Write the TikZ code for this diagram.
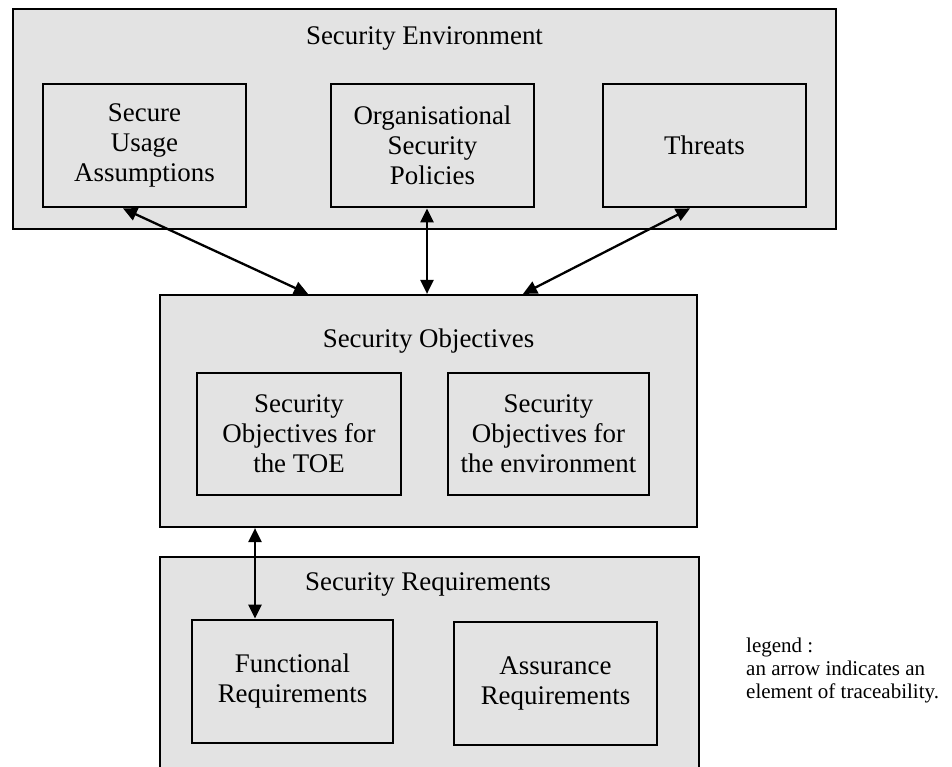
\documentclass[tikz,border=0pt]{standalone}
\usepackage{fontspec}
\setmainfont{Liberation Serif}
\usetikzlibrary{arrows.meta}
\definecolor{panelgray}{RGB}{227,227,227}
\tikzset{
  panel/.style={draw=black, line width=2.2pt, fill=panelgray, inner sep=0pt, rectangle},
  item/.style={draw=black, line width=2.8pt, fill=panelgray, inner sep=0pt, rectangle,
    minimum width=203pt, minimum height=123pt, align=center,
    font=\fontsize{26.9}{30}\selectfont},
  heading/.style={anchor=base, inner sep=0pt, font=\fontsize{26.9}{30}\selectfont},
  trace/.style={line width=2.3pt, {Triangle[length=14pt,width=13pt]}-{Triangle[length=14pt,width=13pt]}}
}
\begin{document}
\begin{tikzpicture}[x=1pt,y=-1pt]
\useasboundingbox (0,0) rectangle (952,767);

% Security environment
\node[panel, minimum width=823pt, minimum height=220pt] (env) at (424.5,119) {};
\node[heading] (envt) at (424.5,45) {Security Environment};
\node[item] (sua) at (144.5,145.5) {Secure\\Usage\\Assumptions};
\node[item] (osp) at (432.5,145.5) {Organisational\\Security\\Policies};
\node[item] (thr) at (704.5,145.5) {Threats};

% Security objectives
\node[panel, minimum width=537pt, minimum height=232pt] (obj) at (428.5,411) {};
\node[heading] (objt) at (428.5,347) {Security Objectives};
\node[item, minimum width=204pt, minimum height=122pt] (otoe) at (299,434) {Security\\Objectives for\\the TOE};
\node[item, minimum width=201pt, minimum height=122pt] (oenv) at (548.5,434) {Security\\Objectives for\\the environment};

% Security requirements (runs off the lower edge)
\node[fill=panelgray, inner sep=0pt, minimum width=539pt, minimum height=214pt] (req) at (429.5,664) {};
\draw[line width=2.2pt] (req.south west) -- (req.north west) -- (req.north east) -- (req.south east);
\node[heading] (reqt) at (428,590) {Security Requirements};
\node[item, minimum width=201pt] (freq) at (292.5,681.5) {Functional\\Requirements};
\node[item] (areq) at (555.5,683.5) {Assurance\\Requirements};

% Traceability arrows
\draw[trace] ([xshift=-21.5pt]sua.south) -- ([xshift=-120.5pt]obj.north);
\draw[trace] ([xshift=-5.5pt]osp.south) -- ([xshift=-5.5pt]osp.south |- obj.north);
\draw[trace] ([xshift=-14.5pt]thr.south) -- ([xshift=94.5pt]obj.north);
\draw[trace] ([xshift=-173.5pt]obj.south) -- ([xshift=-173.5pt]obj.south |- freq.north);

% Legend (base anchor sits on the last line)
\node[anchor=base west, inner sep=0pt, align=left, font=\fontsize{21}{23}\selectfont] (leg) at (746,698)
  {legend :\\an arrow indicates an\\element of traceability.};
\end{tikzpicture}
\end{document}
